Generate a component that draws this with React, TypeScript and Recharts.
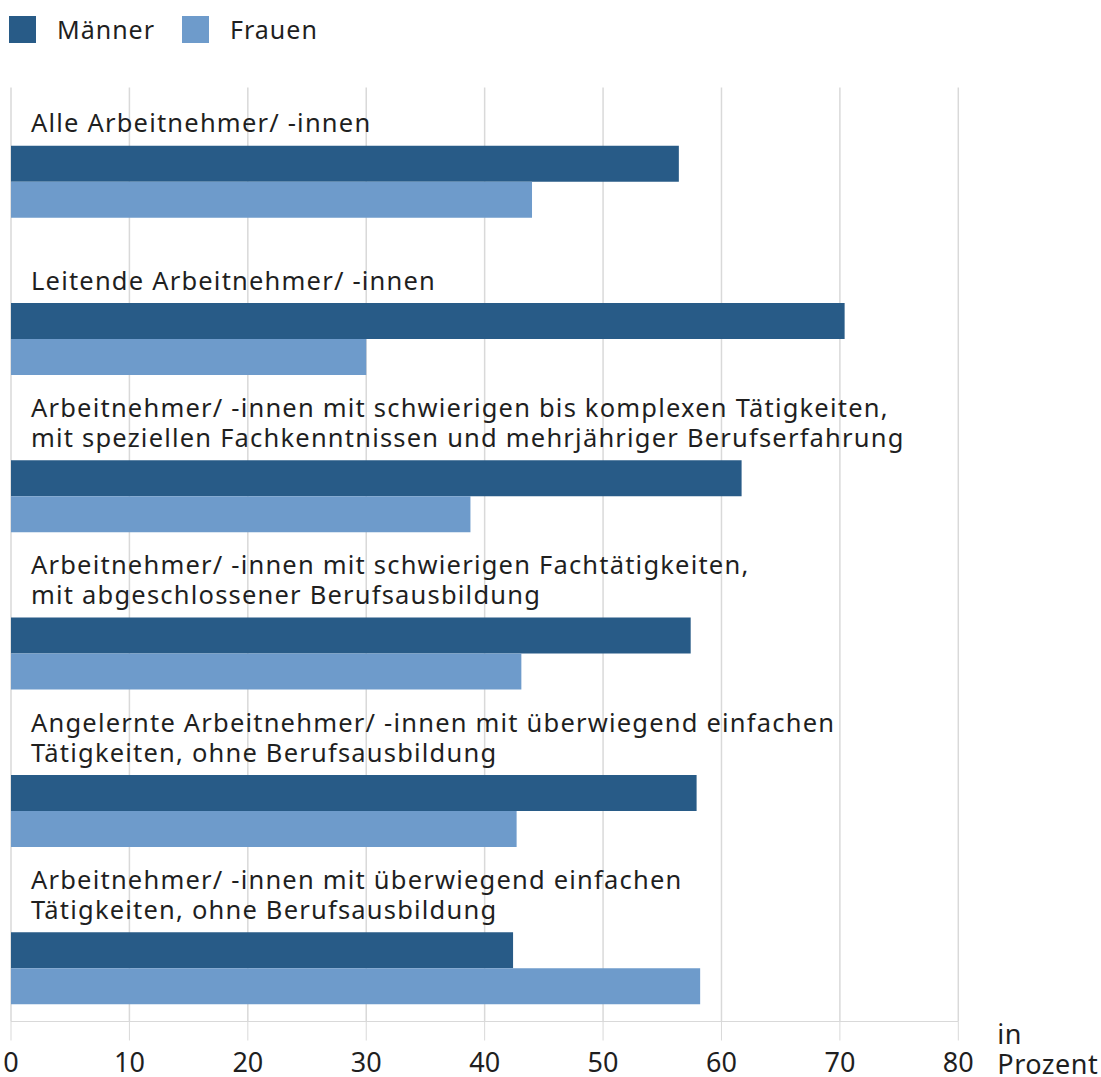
import { Bar, BarChart, CartesianGrid, Legend, XAxis, YAxis } from 'recharts';

const FONT = '"Noto Sans", "Open Sans", sans-serif';
const TEXT = '#1f1f1f';
const GRID = '#d9d9d9';

const categories = [
  'Alle Arbeitnehmer/ -innen',
  'Leitende Arbeitnehmer/ -innen',
  'Arbeitnehmer/ -innen mit schwierigen bis komplexen Tätigkeiten,\nmit speziellen Fachkenntnissen und mehrjähriger Berufserfahrung',
  'Arbeitnehmer/ -innen mit schwierigen Fachtätigkeiten,\nmit abgeschlossener Berufsausbildung',
  'Angelernte Arbeitnehmer/ -innen mit überwiegend einfachen\nTätigkeiten, ohne Berufsausbildung',
  'Arbeitnehmer/ -innen mit überwiegend einfachen\nTätigkeiten, ohne Berufsausbildung',
];
const maenner = [56.4, 70.4, 61.7, 57.4, 57.9, 42.4];
const frauen = [44.0, 30.0, 38.8, 43.1, 42.7, 58.2];
const xTicks = [0, 10, 20, 30, 40, 50, 60, 70, 80];

const series = [
  { key: 'maenner', name: 'Männer', color: '#285b87' },
  { key: 'frauen', name: 'Frauen', color: '#6e9bcb' },
];

const data = categories.map((name, i) => ({
  name,
  maenner: maenner[i],
  frauen: frauen[i],
}));

// label sits above the pair of bars, last line closest to the bars
function CategoryTick({ y, payload }: any) {
  const lines = String(payload.value).split('\n');
  const lineH = 30;
  return (
    <text x={31} y={y} fill={TEXT} fontSize={25.5} fontFamily={FONT} letterSpacing={1.2} textAnchor="start">
      {lines.map((line, i) => (
        <tspan key={i} x={31} dy={i === 0 ? -24 - (lines.length - 1) * lineH : lineH}>
          {line}
        </tspan>
      ))}
    </text>
  );
}

function LegendContent() {
  return (
    <div style={{ display: 'flex', alignItems: 'center', fontFamily: FONT, fontSize: 25, letterSpacing: 1, color: TEXT }}>
      {series.map((s) => (
        <span key={s.key} style={{ display: 'flex', alignItems: 'center', marginRight: 27 }}>
          <span style={{ display: 'inline-block', width: 27, height: 27, background: s.color, marginRight: 21 }} />
          {s.name}
        </span>
      ))}
    </div>
  );
}

function UnitLabel({ viewBox }: any) {
  const x = viewBox.x + viewBox.width + 39;
  return (
    <text x={x} y={viewBox.y} fill={TEXT} fontSize={27} fontFamily={FONT} letterSpacing={0.5}>
      <tspan x={x} dy={22.5}>in</tspan>
      <tspan x={x} dy={29.5}>Prozent</tspan>
    </text>
  );
}

export default function App() {
  return (
    <div style={{ position: 'absolute', left: 0, top: 0, background: '#fff' }}>
      <BarChart
        width={1101}
        height={1077}
        data={data}
        layout="vertical"
        barGap={0}
        margin={{ top: 87.5, right: 142.7, bottom: 15.5, left: 0 }}
      >
        <CartesianGrid horizontal={false} stroke={GRID} strokeWidth={1.5} />
        <XAxis
          type="number"
          domain={[0, 80]}
          ticks={xTicks}
          interval={0}
          height={40}
          tickSize={19}
          tickMargin={12}
          stroke={GRID}
          tick={{ fill: TEXT, fontSize: 27, fontFamily: FONT }}
          label={{ content: UnitLabel }}
        />
        <YAxis
          type="category"
          dataKey="name"
          width={11}
          axisLine={false}
          tickLine={false}
          interval={0}
          padding={{ top: -9.8, bottom: 0 }}
          tick={CategoryTick}
        />
        <Legend
          verticalAlign="middle"
          align="center"
          content={LegendContent}
          wrapperStyle={{ top: 12, left: 9, width: 'auto' }}
        />
        <Bar dataKey={() => 0} barSize={50} fill="none" legendType="none" isAnimationActive={false} />
        {series.map((s) => (
          <Bar
            key={s.key}
            dataKey={s.key}
            name={s.name}
            fill={s.color}
            barSize={36}
            isAnimationActive={false}
          />
        ))}
      </BarChart>
    </div>
  );
}
